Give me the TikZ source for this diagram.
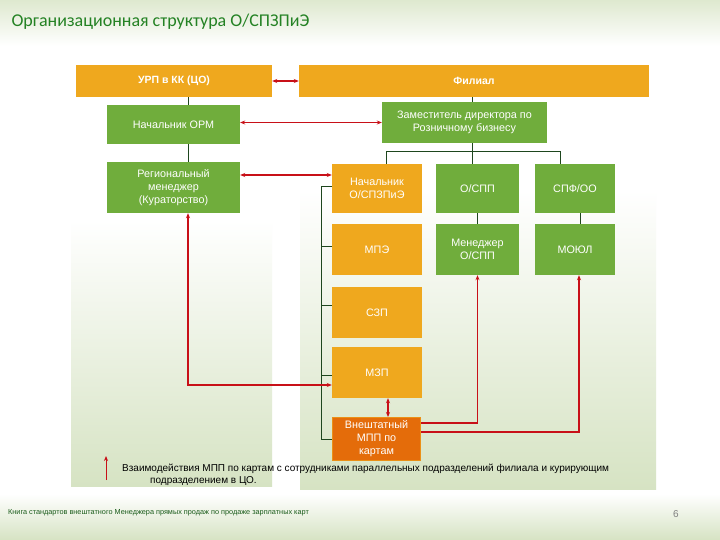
\documentclass[tikz,border=0pt]{standalone}
\usepackage{fontspec}
\setmainfont{Liberation Sans}
\newfontfamily\carlito{Carlito}
\usetikzlibrary{arrows.meta}
\definecolor{boxor}{RGB}{239,168,30}
\definecolor{boxgr}{RGB}{112,173,60}
\definecolor{boxdk}{RGB}{228,108,10}
\definecolor{linkred}{RGB}{200,16,24}
\definecolor{treeln}{RGB}{30,70,30}
\definecolor{panel}{RGB}{214,227,195}
\definecolor{ttlgr}{RGB}{36,130,36}
\begin{document}
\begin{tikzpicture}[x=1pt,y=-1pt,
  wh/.style 2 args={minimum width=#1pt,minimum height=#2pt},
  unit/.style={draw=none,text=white,align=center,inner sep=1pt,font=\fontsize{10.8}{13}\selectfont},
  orbox/.style={unit,fill=boxor},
  grbox/.style={unit,fill=boxgr},
  tree/.style={treeln,line width=0.9pt},
  link/.style={linkred,line width=1.4pt,-{Stealth[length=5pt,width=4pt]}},
  both/.style={link,{Stealth[length=5pt,width=4pt]}-{Stealth[length=5pt,width=4pt]}}]
\fill[white] (0,0) rectangle (720,540);
\shade[top color=panel!80!white,bottom color=white] (0,0) rectangle (720,46);
\shade[top color=white,bottom color=panel] (71,220) rectangle (272,486);
\shade[top color=white,bottom color=panel] (300,190) rectangle (656,489);
\shade[top color=white,bottom color=panel] (0,494) rectangle (720,540);
\node[anchor=west,text=ttlgr,font=\carlito\fontsize{18}{20}\selectfont] (title) at (8,22) {Организационная структура О/СПЗПиЭ};
\node[orbox,wh={196}{32},font=\bfseries\fontsize{10.5}{12}\selectfont] (urp) at (174,81) {УРП в КК (ЦО)};
\node[orbox,wh={350}{32},font=\bfseries\fontsize{10.5}{12}\selectfont] (fil) at (474,81) {Филиал};
\node[grbox,wh={133}{39}] (orm) at (173.5,124.5) {Начальник ОРМ};
\node[grbox,wh={133}{51}] (reg) at (173.5,187.5) {Региональный\\менеджер\\(Кураторство)};
\node[grbox,wh={165}{41}] (zam) at (464.5,122.5) {Заместитель директора по\\Розничному бизнесу};
\node[orbox,wh={90}{49}] (nach) at (377,188.5) {Начальник\\О/СПЗПиЭ};
\node[grbox,wh={83}{49}] (ospp) at (477.5,188.5) {О/СПП};
\node[grbox,wh={80}{49}] (spf) at (575,188.5) {СПФ/ОО};
\node[orbox,wh={90}{51}] (mpe) at (377,249.5) {МПЭ};
\node[grbox,wh={83}{51}] (mgr) at (477.5,249.5) {Менеджер\\О/СПП};
\node[grbox,wh={80}{51}] (moul) at (575,249.5) {МОЮЛ};
\node[orbox,wh={90}{51}] (szp) at (377,312.5) {СЗП};
\node[orbox,wh={90}{51}] (mzp) at (377,372.5) {МЗП};
\node[unit,fill=boxdk,draw=boxor!60!boxdk,line width=1pt,wh={88}{43}] (vne) at (376.5,439) {Внештатный\\МПП по\\картам};
\coordinate (spine) at (188,0);
\coordinate (zax) at (472,0);
\coordinate (bus) at (321,0);
\draw[tree] (urp.south -| spine) -- (orm.north -| spine);
\draw[tree] (orm.south -| spine) -- (reg.north -| spine);
\draw[tree] (fil.south -| zax) -- (zam.north -| zax);
\draw[tree] (zam.south -| zax) -- (ospp.north -| zax);
\draw[tree] ([xshift=9pt]nach.north) -- ++(0,-12) -| ([xshift=-15pt]spf.north);
\draw[tree] (ospp.south) -- (mgr.north);
\draw[tree] ([xshift=5pt]spf.south) -- ([xshift=5pt]moul.north);
\draw[tree] ([yshift=2.5pt]nach.west) -| (bus |- vne.west) -- (vne.west);
\foreach \b/\s in {mpe/3.5,szp/7.5,mzp/-2.5}
  \draw[tree] ([yshift=\s pt]\b.west) -- ++(-11,0);
\draw[both] (urp) -- (fil);
\draw[both] ([yshift=2pt]orm.east) -- (zam.west);
\draw[both] ([yshift=12.5pt]reg.east) -- ([yshift=13.5pt]nach.west);
\draw[both] (reg.south -| spine) |- ([yshift=-12.5pt]mzp.west);
\draw[both] ([xshift=11pt]mzp.south) -- ([xshift=11.5pt]vne.north);
\draw[link] ([yshift=16pt]vne.east) -| (mgr.south);
\draw[link] ([yshift=7pt]vne.east) -| ([xshift=4pt]moul.south);
\coordinate (legfoot) at (106,480);
\coordinate (leghead) at (106,456);
\draw[link,line width=1pt] (legfoot) -- (leghead);
\node[anchor=north west,align=left,inner sep=0pt,font=\fontsize{10}{12}\selectfont] (legtxt) at (122,464) {Взаимодействия МПП по картам с сотрудниками параллельных подразделений филиала и курирующим\\\hspace*{28pt}подразделением в ЦО.};
\node[anchor=west,inner sep=0pt,text=ttlgr!70!black,font=\fontsize{7.3}{8}\selectfont] (foot) at (8,513) {Книга стандартов внештатного  Менеджера  прямых продаж  по продаже зарплатных карт};
\node[text=gray,font=\fontsize{10}{11}\selectfont] (pg) at (676,514) {6};
\end{tikzpicture}
\end{document}
